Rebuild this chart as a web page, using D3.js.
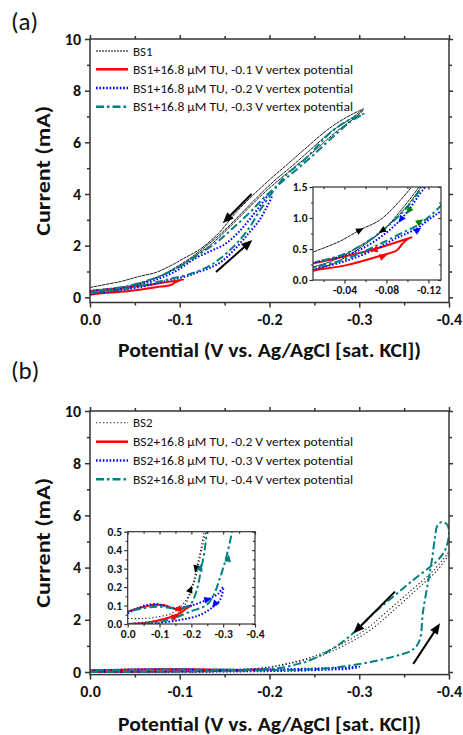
<!DOCTYPE html>
<html><head><meta charset="utf-8">
<script src="https://cdn.jsdelivr.net/npm/d3@7"></script>
<style>body{margin:0;background:#fff}svg{display:block}text{font-family:Carlito,Lato,"Open Sans",sans-serif}</style>
</head><body>
<script>
// ---------------- DATA ----------------
// main axes
const xTicks = [0, -0.1, -0.2, -0.3, -0.4];
const xTickLabels = ["0.0", "-0.1", "-0.2", "-0.3", "-0.4"];
const xMinor = [-0.05, -0.15, -0.25, -0.35];
const yTicks = [0, 2, 4, 6, 8, 10];
const yTickLabels = ["0", "2", "4", "6", "8", "10"];
const yMinor = [1, 3, 5, 7, 9];
const xTitle = "Potential (V vs. Ag/AgCl [sat. KCl])";
const yTitle = "Current (mA)";

// inset (a) axes
const insetATicksX = [-0.04, -0.08, -0.12];
const insetATickLabelsX = ["-0.04", "-0.08", "-0.12"];
const insetAMinorX = [-0.02, -0.06, -0.1];
const insetATicksY = [0, 0.5, 1.0, 1.5];
const insetATickLabelsY = ["0.0", "0.5", "1.0", "1.5"];
const insetAMinorY = [0.25, 0.75, 1.25];
// inset (b) axes
const insetBTicksX = [0, -0.1, -0.2, -0.3, -0.4];
const insetBTickLabelsX = ["0.0", "-0.1", "-0.2", "-0.3", "-0.4"];
const insetBMinorX = [-0.05, -0.15, -0.25, -0.35];
const insetBTicksY = [0, 0.1, 0.2, 0.3, 0.4, 0.5];
const insetBTickLabelsY = ["0.0", "0.1", "0.2", "0.3", "0.4", "0.5"];
const insetBMinorY = [0.05, 0.15, 0.25, 0.35, 0.45];

// legends
const legendA = ["BS1", "BS1+16.8 \u03BCM TU, -0.1 V vertex potential", "BS1+16.8 \u03BCM TU, -0.2 V vertex potential", "BS1+16.8 \u03BCM TU, -0.3 V vertex potential"];
const legendB = ["BS2", "BS2+16.8 \u03BCM TU, -0.2 V vertex potential", "BS2+16.8 \u03BCM TU, -0.3 V vertex potential", "BS2+16.8 \u03BCM TU, -0.4 V vertex potential"];

// panel (a) series: [potential V, current mA]
const bs1Traces = [
  [[0,0.38],[-0.01,0.45],[-0.035,0.62],[-0.055,0.81],[-0.074,0.97],[-0.094,1.3],[-0.104,1.5],[-0.122,1.85],[-0.143,2.47],[-0.163,3.3],[-0.18,3.9],[-0.2,4.55],[-0.22,5.15],[-0.238,5.7],[-0.267,6.55],[-0.29,7.05],[-0.305,7.3]],
  [[0,0.18],[-0.01,0.21],[-0.03,0.32],[-0.05,0.5],[-0.076,0.79],[-0.095,1.15],[-0.111,1.5],[-0.13,2.0],[-0.15,2.6],[-0.17,3.3],[-0.187,3.9],[-0.205,4.5],[-0.224,5.05],[-0.242,5.6],[-0.27,6.45],[-0.292,6.95],[-0.305,7.3]],
  [[0,0.12],[-0.01,0.16],[-0.03,0.27],[-0.05,0.46],[-0.08,0.85],[-0.1,1.2],[-0.115,1.55],[-0.135,2.05],[-0.155,2.7],[-0.175,3.4],[-0.191,3.95],[-0.209,4.5],[-0.228,5.05],[-0.246,5.55],[-0.274,6.4],[-0.295,6.95],[-0.305,7.25]]
];
const tu01Traces = [
  [[0,0.1],[-0.01,0.15],[-0.042,0.24],[-0.074,0.39],[-0.09,0.48],[-0.095,0.58],[-0.1,0.66],[-0.104,0.69],[-0.096,0.645],[-0.069,0.5],[-0.04,0.38],[-0.01,0.27],[0,0.24]]
];
const tu02Traces = [
  [[0,0.12],[-0.01,0.17],[-0.04,0.3],[-0.07,0.5],[-0.09,0.68],[-0.109,0.83],[-0.12,0.97],[-0.133,1.13],[-0.146,1.37],[-0.161,1.85],[-0.176,2.45],[-0.188,2.95],[-0.197,3.5],[-0.2025,3.95],[-0.2,4.02],[-0.195,3.8],[-0.182,3.2],[-0.165,2.5],[-0.15,2.05],[-0.135,1.8],[-0.117,1.5],[-0.096,1.02],[-0.075,0.7],[-0.05,0.45],[-0.03,0.35],[-0.01,0.28],[0,0.25]]
];
const tu03Traces = [
  [[0,0.15],[-0.01,0.2],[-0.04,0.33],[-0.07,0.55],[-0.09,0.72],[-0.113,0.92],[-0.133,1.22],[-0.145,1.5],[-0.161,2.0],[-0.178,2.72],[-0.189,3.35],[-0.204,4.1],[-0.219,4.75],[-0.238,5.3],[-0.256,5.95],[-0.267,6.35],[-0.285,6.8],[-0.305,7.1],
   [-0.29,6.8],[-0.275,6.35],[-0.25,5.55],[-0.232,5.0],[-0.213,4.45],[-0.195,3.9],[-0.18,3.35],[-0.16,2.7],[-0.14,2.1],[-0.114,1.5],[-0.1,1.18],[-0.08,0.85],[-0.06,0.6],[-0.04,0.42],[-0.02,0.32],[-0.01,0.28],[0,0.25]]
];

// panel (b) series
const bs2Traces = [
  [[0,0.03],[-0.05,0.03],[-0.1,0.04],[-0.14,0.06],[-0.17,0.1],[-0.19,0.15],[-0.205,0.22],[-0.22,0.33],[-0.238,0.48],[-0.264,0.8],[-0.29,1.25],[-0.31,1.7],[-0.327,2.2],[-0.357,3.1],[-0.383,3.9],[-0.4,4.6]],
  [[0,0.0],[-0.05,0.01],[-0.1,0.02],[-0.14,0.04],[-0.175,0.09],[-0.2,0.18],[-0.215,0.26],[-0.227,0.36],[-0.251,0.55],[-0.27,0.8],[-0.296,1.25],[-0.316,1.7],[-0.333,2.2],[-0.362,3.1],[-0.387,3.9],[-0.4,4.5]]
];
const tuB02Traces = [
  [[0,0],[-0.06,0.007],[-0.123,0.031],[-0.164,0.058],[-0.185,0.085],[-0.2,0.1],[-0.185,0.094],[-0.164,0.079],[-0.143,0.085],[-0.112,0.103],[-0.081,0.103],[-0.04,0.088],[0,0.067]]
];
const tuB03Traces = [
  [[0,0],[-0.05,0.002],[-0.091,0.004],[-0.164,0.022],[-0.227,0.049],[-0.269,0.094],[-0.29,0.13],[-0.3,0.2],[-0.285,0.165],[-0.269,0.148],[-0.248,0.13],[-0.21,0.105],[-0.185,0.094],[-0.143,0.085],[-0.115,0.098],[-0.091,0.108],[-0.06,0.103],[-0.03,0.085],[0,0.058]]
];
const tuB04Traces = [
  [[0,0],[-0.06,0.004],[-0.1,0.01],[-0.143,0.03],[-0.196,0.067],[-0.248,0.103],[-0.271,0.16],[-0.29,0.25],[-0.311,0.37],[-0.338,0.59],[-0.357,0.8],[-0.364,1.0],[-0.368,1.3],[-0.371,2.3],[-0.377,3.5],[-0.381,4.3],[-0.384,5.06],[-0.387,5.6],[-0.392,5.75],[-0.398,5.65],
   [-0.4,5.3],[-0.396,4.7],[-0.388,4.3],[-0.379,4.03],[-0.36,3.52],[-0.338,2.89],[-0.316,2.25],[-0.293,1.48],[-0.275,1.0],[-0.256,0.62],[-0.24,0.38],[-0.232,0.31],[-0.217,0.184],[-0.196,0.103],[-0.17,0.085],[-0.154,0.085],[-0.12,0.09],[-0.091,0.094],[-0.05,0.085],[0,0.067]]
];

// arrows: [tail, tip] in data coordinates
const arrowsA = [[[-0.180, 4.0], [-0.1479, 2.87]], [[-0.1404, 0.98], [-0.1808, 2.22]]];
const arrowsB = [[[-0.3398, 3.08], [-0.2934, 1.48]], [[-0.3602, 0.31], [-0.39, 1.87]]];
// small arrowheads in insets: [series index, tail, tip]
const insetAHeads = [
  [0, [-0.055, 0.806], [-0.0581, 0.834]],
  [0, [-0.0757, 0.795], [-0.0725, 0.763]],
  [3, [-0.1012, 1.118], [-0.099, 1.065]],
  [2, [-0.0939, 0.979], [-0.0916, 0.924]],
  [3, [-0.1117, 0.94], [-0.115, 0.979]],
  [2, [-0.1098, 0.806], [-0.1131, 0.844]],
  [1, [-0.0677, 0.484], [-0.0645, 0.473]],
  [1, [-0.0778, 0.387], [-0.0805, 0.403]]
];
const insetBHeads = [
  [0, [-0.2147, 0.301], [-0.2115, 0.278]],
  [0, [-0.1979, 0.19], [-0.202, 0.208]],
  [3, [-0.229, 0.31], [-0.232, 0.328]],
  [3, [-0.316, 0.356], [-0.318, 0.377]],
  [1, [-0.154, 0.081], [-0.143, 0.079]],
  [1, [-0.151, 0.043], [-0.161, 0.052]],
  [2, [-0.253, 0.134], [-0.264, 0.139]],
  [2, [-0.271, 0.103], [-0.265, 0.09]]
];

// ---------------- STYLES ----------------
const stylesA = [
  {stroke: "#000", width: 0.9, dash: "3.5,0.6", head: "#000"},
  {stroke: "#ff0000", width: 2, dash: null, head: "#ff0000"},
  {stroke: "#0000ff", width: 2, dash: "1.6,1.8", head: "#0000ff"},
  {stroke: "#008080", width: 2, dash: "8,3,2.5,3", head: "#008000"}
];
const stylesB = [
  {stroke: "#222", width: 1.1, dash: "1.3,2.2", head: "#000"},
  {stroke: "#ff0000", width: 2, dash: null, head: "#ff0000"},
  {stroke: "#0000ff", width: 2, dash: "1.6,1.8", head: "#0000ff"},
  {stroke: "#008080", width: 2, dash: "8,3,2.5,3", head: "#008080"}
];
const axisColor = "#333";

// ---------------- DRAW ----------------
const svg = d3.select("body").append("svg").attr("width", 463).attr("height", 735);
svg.append("rect").attr("width", 463).attr("height", 735).attr("fill", "#fff");
let clipId = 0;

function head(g, p1, p2, len, hw, color) {
  const dx = p2[0] - p1[0], dy = p2[1] - p1[1];
  const L = Math.hypot(dx, dy) || 1;
  const ux = dx / L, uy = dy / L;
  const bx = p2[0] - ux * len, by = p2[1] - uy * len;
  g.append("path").attr("d", `M${p2[0]},${p2[1]}L${bx - uy * hw},${by + ux * hw}L${bx + uy * hw},${by - ux * hw}Z`).attr("fill", color);
}

function drawSeries(g, x, y, seriesList, styles, clipRect) {
  const id = "clip" + (clipId++);
  g.append("clipPath").attr("id", id).append("rect")
    .attr("x", clipRect[0]).attr("y", clipRect[1]).attr("width", clipRect[2]).attr("height", clipRect[3]);
  const cg = g.append("g").attr("clip-path", `url(#${id})`);
  const line = d3.line().x(d => x(d[0])).y(d => y(d[1])).curve(d3.curveCatmullRom.alpha(0.5));
  seriesList.forEach((traces, i) => {
    const s = styles[i];
    traces.forEach(t => {
      cg.append("path").attr("d", line(t)).attr("fill", "none")
        .attr("stroke", s.stroke).attr("stroke-width", s.width)
        .attr("stroke-dasharray", s.dash).attr("stroke-linejoin", "round");
    });
  });
  return cg;
}

function frameAxes(g, x, y, opt) {
  const [x0, x1] = x.range(), [y0, y1] = y.range();
  g.append("g").attr("transform", `translate(0,${y0})`)
    .call(d3.axisBottom(x).tickValues(opt.xt).tickFormat((d, i) => opt.xl[i]).tickSize(opt.major).tickPadding(opt.xpad));
  g.append("g").attr("transform", `translate(0,${y0})`).call(d3.axisBottom(x).tickValues(opt.xm).tickFormat("").tickSize(opt.minor));
  g.append("g").attr("transform", `translate(${x0},0)`)
    .call(d3.axisLeft(y).tickValues(opt.yt).tickFormat((d, i) => opt.yl[i]).tickSize(opt.major).tickPadding(opt.ypad));
  g.append("g").attr("transform", `translate(${x0},0)`).call(d3.axisLeft(y).tickValues(opt.ym).tickFormat("").tickSize(opt.minor));
  const ts = opt.mirrorOut ? 1 : -1;
  g.append("g").attr("transform", `translate(0,${y1})`).call(d3.axisTop(x).tickValues(opt.xt).tickFormat("").tickSize(opt.major * ts * 0.8));
  g.append("g").attr("transform", `translate(0,${y1})`).call(d3.axisTop(x).tickValues(opt.xm).tickFormat("").tickSize(opt.minor * ts));
  g.append("g").attr("transform", `translate(${x1},0)`).call(d3.axisRight(y).tickValues(opt.yt).tickFormat("").tickSize(opt.major * ts * 0.8));
  g.append("g").attr("transform", `translate(${x1},0)`).call(d3.axisRight(y).tickValues(opt.ym).tickFormat("").tickSize(opt.minor * ts));
  g.selectAll(".domain").remove();
  g.selectAll(".tick line").attr("stroke", axisColor).attr("stroke-width", opt.sw);
  g.selectAll(".tick text").attr("fill", "#111").attr("font-size", opt.fs).attr("font-weight", "bold");
  g.append("rect").attr("x", x0).attr("y", y1).attr("width", x1 - x0).attr("height", y0 - y1)
    .attr("fill", "none").attr("stroke", axisColor).attr("stroke-width", opt.sw);
}

function panel(cfg) {
  const g = svg.append("g");
  const x = d3.scaleLinear().domain([0, -0.4]).range([90, 449]);
  const y = d3.scaleLinear().domain(cfg.yDomain).range([cfg.bottom, cfg.top]);
  drawSeries(g, x, y, cfg.series, cfg.styles, [90, cfg.top, 359, cfg.bottom - cfg.top]);
  frameAxes(g, x, y, {xt: xTicks, xl: xTickLabels, xm: xMinor, yt: yTicks, yl: yTickLabels, ym: yMinor,
    major: 5, minor: 3, xpad: 6, ypad: 4, fs: "16px", sw: 1.5, mirrorOut: true});
  g.append("text").attr("x", 269.5).attr("y", cfg.titleY).attr("text-anchor", "middle")
    .attr("font-size", "20px").attr("font-weight", "bold").attr("fill", "#111")
    .attr("textLength", 303).attr("lengthAdjust", "spacingAndGlyphs").text(xTitle);
  g.append("text").attr("transform", `translate(50,${(cfg.top + cfg.bottom) / 2}) rotate(-90)`)
    .attr("text-anchor", "middle").attr("font-size", "21px").attr("font-weight", "bold").attr("fill", "#111")
    .attr("textLength", 130).attr("lengthAdjust", "spacingAndGlyphs").text(yTitle);
  g.append("text").attr("x", 11).attr("y", cfg.labelY).attr("font-size", "25px").attr("fill", "#111").text(cfg.label);
  cfg.legend.forEach((t, i) => {
    const yy = cfg.legendY[i];
    const s = cfg.styles[i];
    g.append("line").attr("x1", 96).attr("x2", 128).attr("y1", yy).attr("y2", yy)
      .attr("stroke", s.stroke).attr("stroke-width", i === 0 ? Math.max(s.width, 1) : 2.5)
      .attr("stroke-dasharray", i === 0 && s === stylesA[0] ? "2,1" : s.dash);
    const tx = g.append("text").attr("x", 133).attr("y", yy + 4.5).attr("font-size", "13px").attr("fill", "#111").text(t);
    if (i > 0) tx.attr("textLength", 220).attr("lengthAdjust", "spacingAndGlyphs");
  });
  cfg.arrows.forEach(a => {
    const p1 = [x(a[0][0]), y(a[0][1])], p2 = [x(a[1][0]), y(a[1][1])];
    const dx = p2[0] - p1[0], dy = p2[1] - p1[1], L = Math.hypot(dx, dy);
    g.append("line").attr("x1", p1[0]).attr("y1", p1[1]).attr("x2", p2[0] - dx / L * 8).attr("y2", p2[1] - dy / L * 8)
      .attr("stroke", "#000").attr("stroke-width", 2);
    head(g, p1, p2, 11, 4.5, "#000");
  });
  const ins = cfg.inset;
  const ig = svg.append("g");
  const ix = d3.scaleLinear().domain(ins.xDomain).range([ins.left, ins.right]);
  const iy = d3.scaleLinear().domain(ins.yDomain).range([ins.bottom, ins.top]);
  ig.append("rect").attr("x", ins.left).attr("y", ins.top).attr("width", ins.right - ins.left).attr("height", ins.bottom - ins.top).attr("fill", "#fff");
  const cg = drawSeries(ig, ix, iy, cfg.series, cfg.styles, [ins.left, ins.top, ins.right - ins.left, ins.bottom - ins.top]);
  ins.heads.forEach(h => {
    head(cg, [ix(h[1][0]), iy(h[1][1])], [ix(h[2][0]), iy(h[2][1])], 7.5, 3.4, cfg.styles[h[0]].head);
  });
  frameAxes(ig, ix, iy, {xt: ins.xt, xl: ins.xl, xm: ins.xm, yt: ins.yt, yl: ins.yl, ym: ins.ym,
    major: 3.5, minor: 2, xpad: 2, ypad: 2, fs: "11.5px", sw: 1.2, mirrorOut: false});
}

panel({
  top: 39, bottom: 302.5, yDomain: [-0.2, 10], titleY: 357, labelY: 30, label: "(a)",
  series: [bs1Traces, tu01Traces, tu02Traces, tu03Traces], styles: stylesA,
  legend: legendA, legendY: [51, 69.3, 88, 106.7], arrows: arrowsA,
  inset: {left: 313, right: 441, top: 187, bottom: 280, xDomain: [-0.01, -0.132], yDomain: [0, 1.5],
    xt: insetATicksX, xl: insetATickLabelsX, xm: insetAMinorX, yt: insetATicksY, yl: insetATickLabelsY, ym: insetAMinorY,
    heads: insetAHeads}
});
panel({
  top: 411, bottom: 674.6, yDomain: [-0.1, 10], titleY: 730.5, labelY: 379, label: "(b)",
  series: [bs2Traces, tuB02Traces, tuB03Traces, tuB04Traces], styles: stylesB,
  legend: legendB, legendY: [422.7, 441.7, 460.5, 479.2], arrows: arrowsB,
  inset: {left: 127.7, right: 255, top: 531.7, bottom: 624, xDomain: [0, -0.4], yDomain: [0, 0.5],
    xt: insetBTicksX, xl: insetBTickLabelsX, xm: insetBMinorX, yt: insetBTicksY, yl: insetBTickLabelsY, ym: insetBMinorY,
    heads: insetBHeads}
});
</script>
</body></html>
